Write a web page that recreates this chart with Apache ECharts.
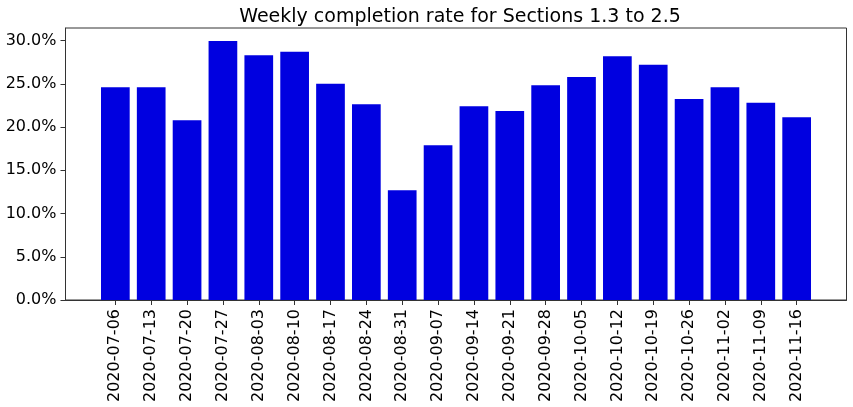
<!DOCTYPE html>
<html>
<head>
<meta charset="utf-8">
<script src="https://cdn.jsdelivr.net/npm/echarts@6/dist/echarts.min.js"></script>
<style>
html,body{margin:0;padding:0;background:#fff;}
#chart{width:853px;height:407px;}
</style>
</head>
<body>
<div id="chart"></div>
<script>
const weeks = ["2020-07-06","2020-07-13","2020-07-20","2020-07-27","2020-08-03","2020-08-10","2020-08-17","2020-08-24","2020-08-31","2020-09-07","2020-09-14","2020-09-21","2020-09-28","2020-10-05","2020-10-12","2020-10-19","2020-10-26","2020-11-02","2020-11-09","2020-11-16"];
const completionRate = [24.6, 24.6, 20.8, 29.95, 28.3, 28.7, 25.0, 22.65, 12.7, 17.9, 22.4, 21.85, 24.85, 25.8, 28.2, 27.2, 23.25, 24.6, 22.8, 21.15];
const yTicks = [0, 5, 10, 15, 20, 25, 30];

const chart = echarts.init(document.getElementById('chart'), null, {renderer: 'canvas'});
const idx = weeks.map((_, i) => i);
const font = 'DejaVu Sans';
chart.setOption({
  animation: false,
  title: {
    text: 'Weekly completion rate for Sections 1.3 to 2.5',
    left: 455, top: 3, textAlign: 'center',
    textStyle: {fontFamily: font, fontSize: 19, fontWeight: 'normal', color: '#000'}
  },
  grid: {left: 65.5, right: 6.5, top: 28, bottom: 107, show: true, borderColor: '#333', borderWidth: 1, containLabel: false},
  xAxis: {
    type: 'value', min: -1.39, max: 20.39,
    splitLine: {show: false},
    axisLine: {show: true, onZero: false, lineStyle: {color: '#333'}},
    axisTick: {show: true, length: 5, customValues: idx, lineStyle: {color: '#333'}},
    axisLabel: {
      customValues: idx, rotate: 90, margin: 9,
      fontFamily: font, fontSize: 16, color: '#000',
      formatter: v => weeks[Math.round(v)]
    }
  },
  yAxis: {
    type: 'value', min: 0, max: 31.46, interval: 5,
    splitLine: {show: false},
    axisLine: {show: true, onZero: false, lineStyle: {color: '#333'}},
    axisTick: {show: true, length: 5, customValues: yTicks, lineStyle: {color: '#333'}},
    axisLabel: {
      customValues: yTicks, margin: 9,
      fontFamily: font, fontSize: 16, color: '#000',
      formatter: v => v.toFixed(1) + '%'
    }
  },
  series: [{
    type: 'bar',
    barWidth: 28.7,
    itemStyle: {color: '#0000e0'},
    data: completionRate.map((v, i) => [i, v])
  }]
});
</script>
</body>
</html>
